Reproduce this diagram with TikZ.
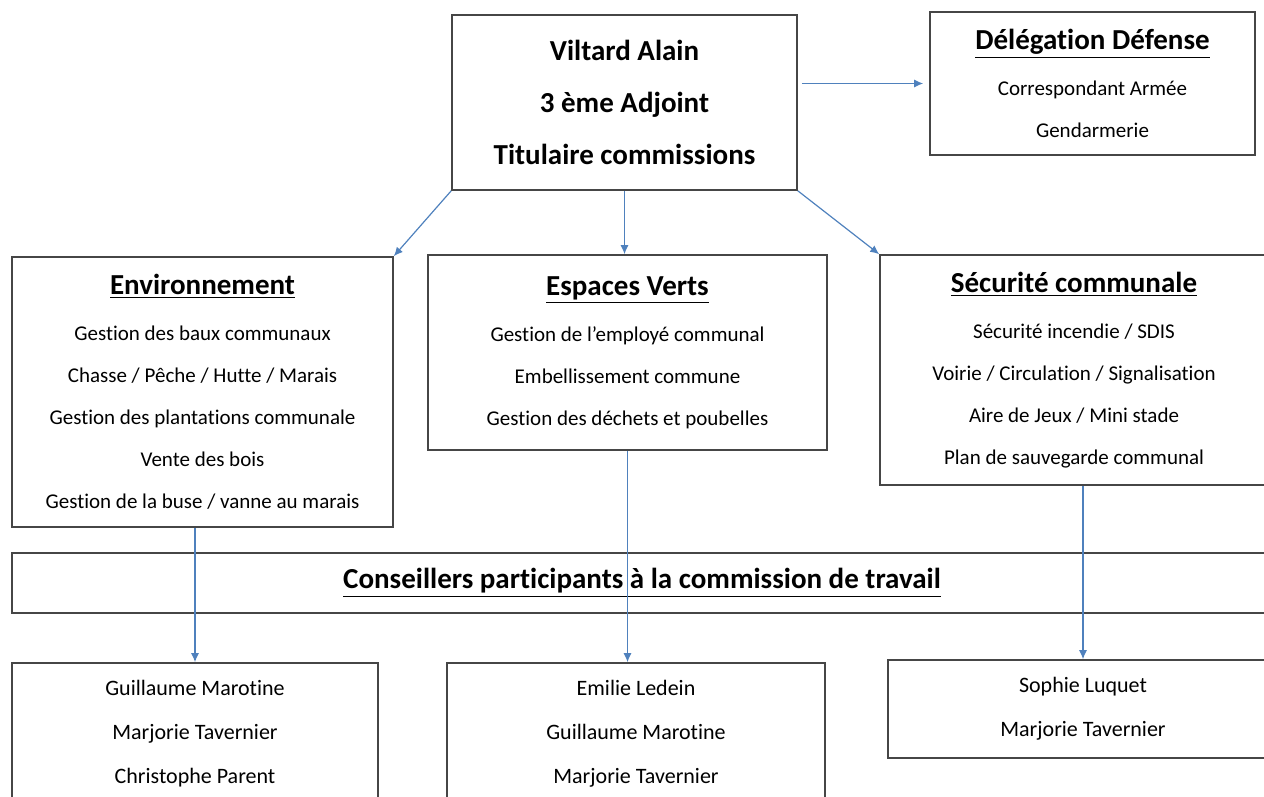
\documentclass[tikz,border=0pt]{standalone}
\usepackage{fontspec}
\setmainfont[Ligatures=NoCommon]{Carlito}
\usepackage{tikz}
\usetikzlibrary{positioning,calc,arrows.meta}
\definecolor{lineBlue}{RGB}{79,129,189}
\definecolor{boxGray}{RGB}{70,70,70}
\tikzset{
  orgbox/.style={draw=boxGray,line width=0.8pt,rectangle,inner sep=0pt,align=center,
    font=\fontsize{10.5}{21}\selectfont},
  headbox/.style={orgbox,font=\fontsize{14.5}{26}\selectfont\bfseries},
  namebox/.style={orgbox,font=\fontsize{11}{22}\selectfont},
  link/.style={draw=lineBlue,line width=0.6pt,-{Latex[length=4.5pt,width=4pt]}}
}
\newcommand{\boxtitle}[1]{{\fontsize{14.5}{21}\selectfont\bfseries\underline{#1}}}
\begin{document}
\begin{tikzpicture}[x=0.5pt,y=-0.5pt]
  \useasboundingbox (0,0) rectangle (1264,797);
  \clip (0,0) rectangle (1264,797);
  % Adjoint
  \node[headbox,minimum width=172.5pt,minimum height=87.5pt] (adjoint) at (624.5,102.5)
    {Viltard Alain\\3 ème Adjoint\\Titulaire commissions};
  % Delegation
  \node[orgbox,minimum width=162.5pt,minimum height=71.5pt] (defense) at (1092.5,83.5)
    {\boxtitle{Délégation Défense}\\[2pt]Correspondant Armée\\Gendarmerie};
  % Commissions
  \node[orgbox,minimum width=190.5pt,minimum height=135pt] (environ) at (202.5,392)
    {\boxtitle{Environnement}\\[2pt]Gestion des baux communaux\\Chasse / Pêche / Hutte / Marais\\
     Gestion des plantations communale\\Vente des bois\\Gestion de la buse / vanne au marais};
  \node[orgbox,minimum width=199.5pt,minimum height=97.5pt] (espaces) at (627.5,352.5)
    {\boxtitle{Espaces Verts}\\[2pt]Gestion de l’employé communal\\Embellissement commune\\
     Gestion des déchets et poubelles};
  \node[orgbox,minimum width=194pt,minimum height=115pt] (securite) at (1074,370)
    {\boxtitle{Sécurité communale}\\[2pt]Sécurité incendie / SDIS\\Voirie / Circulation / Signalisation\\
     Aire de Jeux / Mini stade\\Plan de sauvegarde communal};
  % Conseillers
  \node[orgbox,minimum width=630pt,minimum height=30pt] (conseil) at (642,583)
    {\boxtitle{Conseillers participants à la commission de travail}};
  \node[namebox,minimum width=183pt,minimum height=71pt] (membresEnv) at (195,734)
    {Guillaume Marotine\\Marjorie Tavernier\\Christophe Parent};
  \node[namebox,minimum width=189pt,minimum height=71pt] (membresEsp) at (636,734)
    {Emilie Ledein\\Guillaume Marotine\\Marjorie Tavernier};
  \node[namebox,minimum width=195pt,minimum height=49pt] (membresSec) at (1083,709)
    {Sophie Luquet\\Marjorie Tavernier};
  % Liens
  \draw[link] ([xshift=2pt]adjoint.east |- defense.west) -- ([xshift=-3pt]defense.west);
  \draw[link] (adjoint.south west) -- (environ.north east);
  \draw[link] (adjoint.south) -- (adjoint.south |- espaces.north);
  \draw[link] (adjoint.south east) -- (securite.north west);
  \draw[link] (environ.south -| membresEnv.north) -- (membresEnv.north);
  \draw[link] (espaces.south) -- (espaces.south |- membresEsp.north);
  \draw[link] (membresSec.north |- securite.south) -- (membresSec.north);
\end{tikzpicture}
\end{document}
